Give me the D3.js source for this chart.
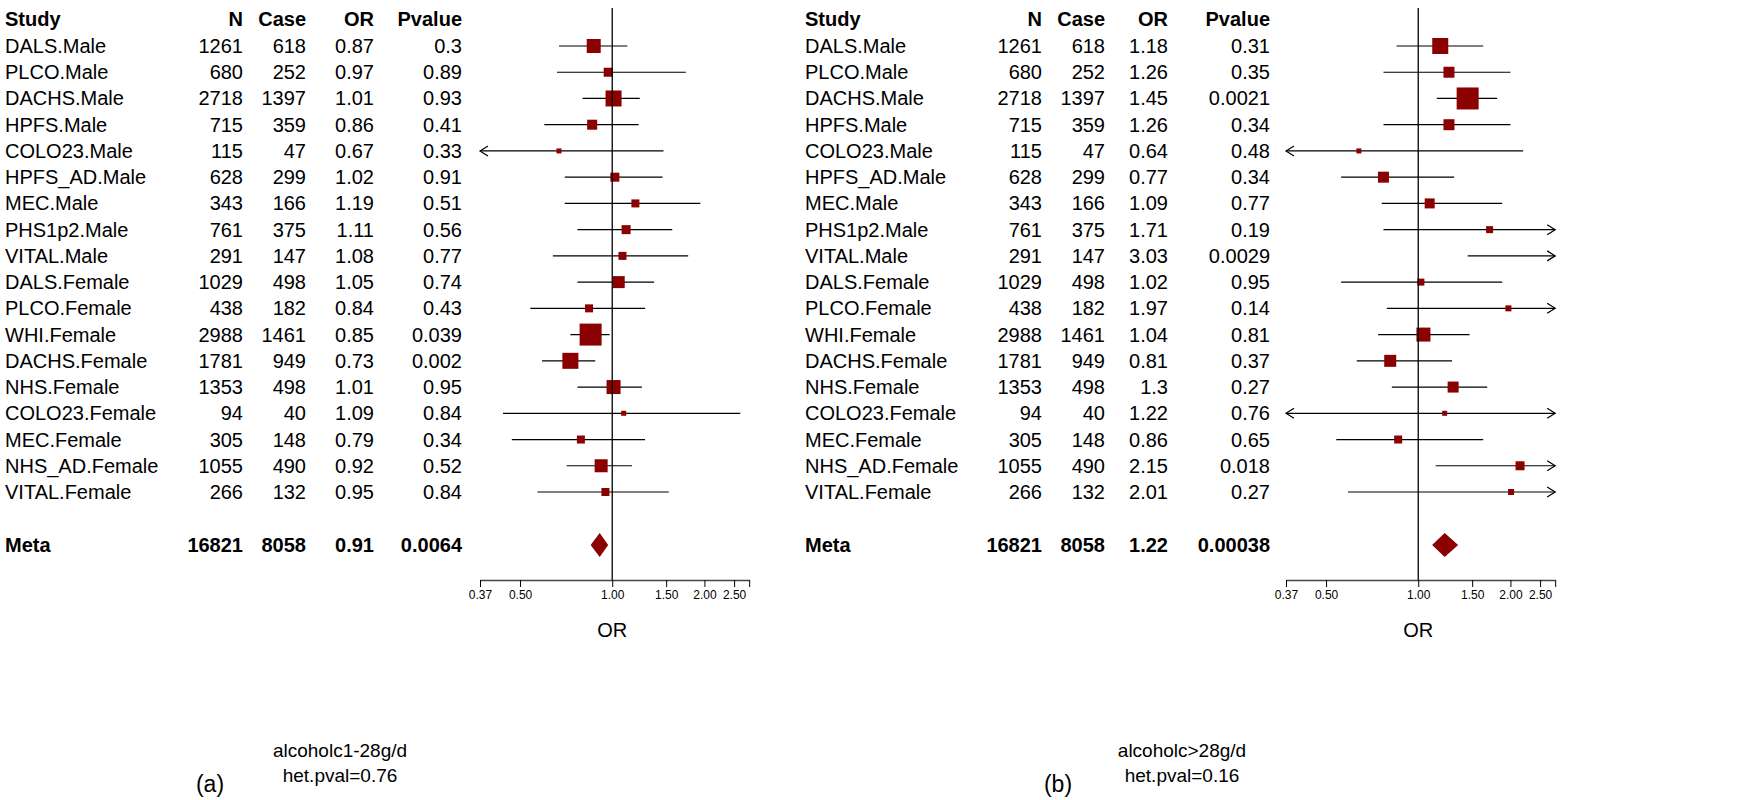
<!DOCTYPE html>
<html><head><meta charset="utf-8">
<script src="https://cdn.jsdelivr.net/npm/d3@7"></script>
<style>body{margin:0;background:#fff}text{font-family:"Liberation Sans",Arial,sans-serif}</style>
</head><body><svg id="c" width="1764" height="800"></svg>
<script>
const studies=["DALS.Male","PLCO.Male","DACHS.Male","HPFS.Male","COLO23.Male","HPFS_AD.Male","MEC.Male","PHS1p2.Male","VITAL.Male","DALS.Female","PLCO.Female","WHI.Female","DACHS.Female","NHS.Female","COLO23.Female","MEC.Female","NHS_AD.Female","VITAL.Female"];
const nA=[1261,680,2718,715,115,628,343,761,291,1029,438,2988,1781,1353,94,305,1055,266];
const caseA=[618,252,1397,359,47,299,166,375,147,498,182,1461,949,498,40,148,490,132];
const tickVals=[0.37,0.5,1,1.5,2,2.5,2.8];
const tickLabels=["0.37","0.50","1.00","1.50","2.00","2.50",""];
// panel a
const orA=["0.87","0.97","1.01","0.86","0.67","1.02","1.19","1.11","1.08","1.05","0.84","0.85","0.73","1.01","1.09","0.79","0.92","0.95"];
const pA=["0.3","0.89","0.93","0.41","0.33","0.91","0.51","0.56","0.77","0.74","0.43","0.039","0.002","0.95","0.84","0.34","0.52","0.84"];
const loA=[0.67,0.66,0.80,0.60,0.2,0.70,0.70,0.77,0.64,0.77,0.54,0.73,0.59,0.77,0.44,0.47,0.71,0.57];
const hiA=[1.12,1.74,1.23,1.22,1.47,1.46,1.94,1.57,1.77,1.37,1.28,0.98,0.88,1.25,2.62,1.28,1.16,1.53];
const boxA=[14,9,16,10,5,9,8,9,8,12,8,22,16,14,5,8,13,8];
const metaA={n:"16821",c:"8058",or:0.91,orT:"0.91",p:"0.0064",lo:0.85,hi:0.97};
// panel b
const orB=["1.18","1.26","1.45","1.26","0.64","0.77","1.09","1.71","3.03","1.02","1.97","1.04","0.81","1.3","1.22","0.86","2.15","2.01"];
const pB=["0.31","0.35","0.0021","0.34","0.48","0.34","0.77","0.19","0.0029","0.95","0.14","0.81","0.37","0.27","0.76","0.65","0.018","0.27"];
const loB=[0.85,0.77,1.15,0.77,0.2,0.56,0.76,0.77,1.45,0.56,0.79,0.74,0.63,0.82,0.2,0.54,1.14,0.59];
const hiB=[1.63,2.0,1.81,2.0,2.2,1.31,1.88,9,9,1.88,9,1.47,1.29,1.68,9,1.63,9,9];
const boxB=[16,11,22,11,5,11,10,7,7,7,6,14,12,11,5,8,9,6];
const metaB={n:"16821",c:"8058",or:1.22,orT:"1.22",p:"0.00038",lo:1.11,hi:1.35};

const svg=d3.select("#c");
const red="#8b0000";
function panel(o){
  const g=svg.append("g");
  const y=d3.scaleLinear().domain([0,17]).range([46,492]);
  const x=d3.scaleLog().domain([0.37,2.8]).range([o.x0,o.x0+(Math.log(2.8)-Math.log(0.37))*133]);
  const fs=20;
  const hdr=[["Study",o.cs,"start"],["N",o.cn,"end"],["Case",o.cc,"end"],["OR",o.co,"end"],["Pvalue",o.cp,"end"]];
  hdr.forEach(h=>g.append("text").attr("x",h[1]).attr("y",26).attr("text-anchor",h[2]).attr("font-size",fs).attr("font-weight","bold").text(h[0]));
  studies.forEach((s,i)=>{
    const yy=y(i)+7;
    g.append("text").attr("x",o.cs).attr("y",yy).attr("font-size",fs).text(s);
    g.append("text").attr("x",o.cn).attr("y",yy).attr("font-size",fs).attr("text-anchor","end").text(nA[i]);
    g.append("text").attr("x",o.cc).attr("y",yy).attr("font-size",fs).attr("text-anchor","end").text(caseA[i]);
    g.append("text").attr("x",o.co).attr("y",yy).attr("font-size",fs).attr("text-anchor","end").text(o.or[i]);
    g.append("text").attr("x",o.cp).attr("y",yy).attr("font-size",fs).attr("text-anchor","end").text(o.p[i]);
  });
  const m=o.meta, ym=545;
  [[o.cs,"Meta","start"],[o.cn,m.n,"end"],[o.cc,m.c,"end"],[o.co,m.orT,"end"],[o.cp,m.p,"end"]].forEach(t=>
    g.append("text").attr("x",t[0]).attr("y",ym+7).attr("text-anchor",t[2]).attr("font-size",fs).attr("font-weight","bold").text(t[1]));
  const [dmin,dmax]=x.domain();
  studies.forEach((s,i)=>{
    const lo=Math.max(o.lo[i],dmin), hi=Math.min(o.hi[i],dmax), yy=y(i);
    g.append("line").attr("x1",x(lo)).attr("x2",x(hi)).attr("y1",yy).attr("y2",yy).attr("stroke","#000").attr("stroke-width",1.2);
    if(o.lo[i]<dmin) g.append("path").attr("d",`M${x(dmin)+8},${yy-5}L${x(dmin)},${yy}L${x(dmin)+8},${yy+5}`).attr("fill","none").attr("stroke","#000").attr("stroke-width",1.2);
    if(o.hi[i]>dmax) g.append("path").attr("d",`M${x(dmax)-8},${yy-5}L${x(dmax)},${yy}L${x(dmax)-8},${yy+5}`).attr("fill","none").attr("stroke","#000").attr("stroke-width",1.2);
    const v=+o.or[i];
    if(v>=dmin&&v<=dmax){const b=o.box[i];
      g.append("rect").attr("x",x(v)-b/2).attr("y",yy-b/2).attr("width",b).attr("height",b).attr("fill",red);}
  });
  g.append("line").attr("x1",x(1)).attr("x2",x(1)).attr("y1",8).attr("y2",580).attr("stroke","#000").attr("stroke-width",1.3);
  g.append("path").attr("d",`M${x(m.lo)},${ym}L${x(m.or)},${ym-12}L${x(m.hi)},${ym}L${x(m.or)},${ym+12}Z`).attr("fill",red);
  const ax=g.append("g").attr("transform","translate(0,580)").call(d3.axisBottom(x).tickValues(tickVals).tickFormat((d,i)=>tickLabels[i]).tickSize(7).tickSizeOuter(0));
  ax.select(".domain").attr("stroke","#444").attr("stroke-width",1.6);
  ax.selectAll("text").attr("font-size",12).attr("font-family","Liberation Sans, Arial");
  g.append("text").attr("x",x(1)).attr("y",637).attr("text-anchor","middle").attr("font-size",20).text("OR");
  g.append("text").attr("x",o.lx).attr("y",757).attr("text-anchor","middle").attr("font-size",19).text(o.l1);
  g.append("text").attr("x",o.lx).attr("y",782).attr("text-anchor","middle").attr("font-size",19).text(o.l2);
  g.append("text").attr("x",o.tx).attr("y",792).attr("text-anchor","middle").attr("font-size",23).attr("font-family","DejaVu Sans").text(o.tag);
}
panel({x0:480,cs:5,cn:243,cc:306,co:374,cp:462,or:orA,p:pA,lo:loA,hi:hiA,box:boxA,meta:metaA,lx:340,l1:"alcoholc1-28g/d",l2:"het.pval=0.76",tx:210,tag:"(a)"});
panel({x0:1286,cs:805,cn:1042,cc:1105,co:1168,cp:1270,or:orB,p:pB,lo:loB,hi:hiB,box:boxB,meta:metaB,lx:1182,l1:"alcoholc>28g/d",l2:"het.pval=0.16",tx:1058,tag:"(b)"});
</script></body></html>
